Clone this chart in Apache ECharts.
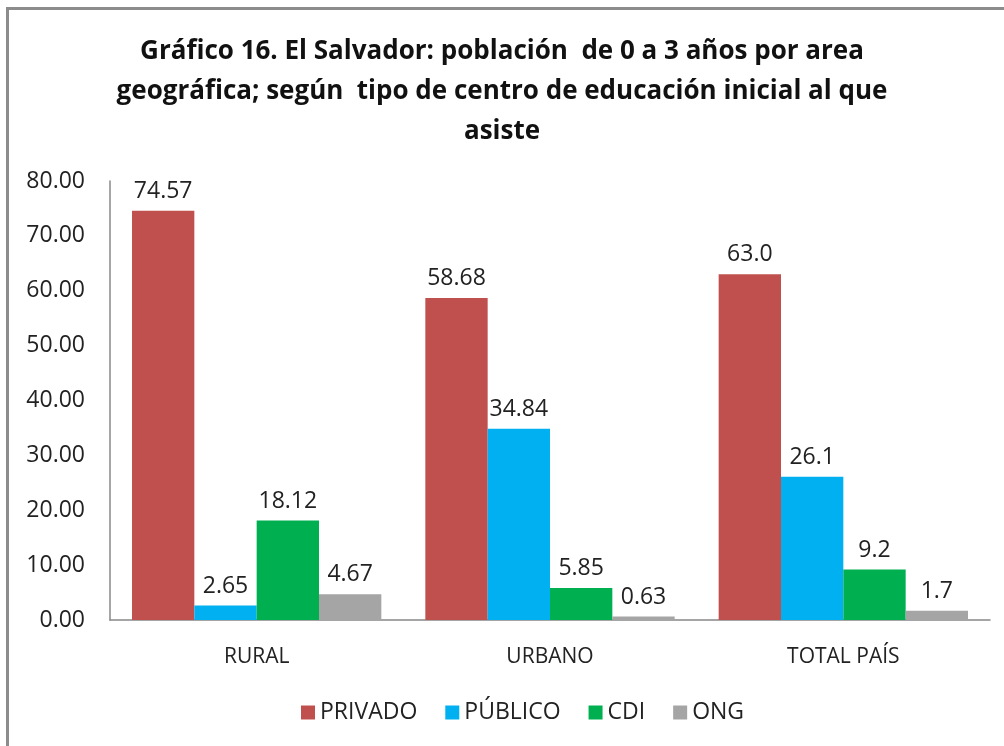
<!DOCTYPE html>
<html>
<head>
<meta charset="utf-8">
<script src="https://cdn.jsdelivr.net/npm/echarts@6/dist/echarts.min.js"></script>
<style>
  html, body { margin: 0; padding: 0; background: #fff; }
  #chart { width: 1004px; height: 746px; }
  .frame {
    position: absolute;
    left: 6px;
    top: 7px;
    width: 1000px;
    height: 742px;
    border-top: 3px solid #8c8c8c;
    border-left: 3px solid #8c8c8c;
    pointer-events: none;
  }
</style>
</head>
<body>
<div id="chart"></div>
<div class="frame"></div>
<script>
const categories = ['RURAL', 'URBANO', 'TOTAL PAÍS']
const seriesNames = ['PRIVADO', 'PÚBLICO', 'CDI', 'ONG']
const privado = [74.57, 58.68, 63.0]
const publico = [2.65, 34.84, 26.1]
const cdi = [18.12, 5.85, 9.2]
const ong = [4.67, 0.63, 1.7]
// labels as printed on the chart (the totals use one decimal)
const privadoLabels = ['74.57', '58.68', '63.0']
const publicoLabels = ['2.65', '34.84', '26.1']
const cdiLabels = ['18.12', '5.85', '9.2']
const ongLabels = ['4.67', '0.63', '1.7']
const yTicks = { min: 0, max: 80, interval: 10 }

const colors = ['#C0504D', '#00B0F0', '#00B050', '#A5A5A5']
const font = '"Open Sans", "Noto Sans", sans-serif'

function makeSeries(name, values, labels, color) {
  return {
    name: name,
    type: 'bar',
    data: values,
    barGap: '0%',
    barCategoryGap: '15%',
    itemStyle: { color: color },
    label: {
      show: true,
      position: 'top',
      distance: 8,
      color: '#222',
      fontSize: 23,
      fontFamily: font,
      formatter: p => labels[p.dataIndex]
    }
  }
}

const chart = echarts.init(document.getElementById('chart'))
chart.setOption({
  animation: false,
  textStyle: { fontFamily: font },
  title: {
    text: 'Gráfico 16. El Salvador: población  de 0 a 3 años por area\ngeográfica; según  tipo de centro de educación inicial al que\nasiste',
    left: 'center',
    top: 27,
    textStyle: {
      fontSize: 26,
      fontWeight: 'bold',
      color: '#111',
      lineHeight: 40,
      fontFamily: font
    }
  },
  legend: {
    bottom: 17,
    left: 296,
    itemWidth: 14,
    itemHeight: 14,
    itemGap: 28,
    icon: 'rect',
    textStyle: { fontSize: 23, color: '#222', fontFamily: font },
    data: seriesNames
  },
  grid: {
    left: 110,
    right: 14,
    top: 181,
    bottom: 126
  },
  xAxis: {
    type: 'category',
    data: categories,
    axisLine: { lineStyle: { color: '#888', width: 1.5 } },
    axisTick: { show: false },
    axisLabel: { fontSize: 21, color: '#222', margin: 27, fontFamily: font }
  },
  yAxis: {
    type: 'value',
    min: yTicks.min,
    max: yTicks.max,
    interval: yTicks.interval,
    axisLine: { show: true, lineStyle: { color: '#888', width: 1.5 } },
    axisTick: { show: false },
    splitLine: { show: false },
    axisLabel: {
      fontSize: 23,
      color: '#222',
      margin: 25,
      fontFamily: font,
      formatter: v => v.toFixed(2)
    }
  },
  series: [
    makeSeries(seriesNames[0], privado, privadoLabels, colors[0]),
    makeSeries(seriesNames[1], publico, publicoLabels, colors[1]),
    makeSeries(seriesNames[2], cdi, cdiLabels, colors[2]),
    makeSeries(seriesNames[3], ong, ongLabels, colors[3])
  ]
})
</script>
</body>
</html>
